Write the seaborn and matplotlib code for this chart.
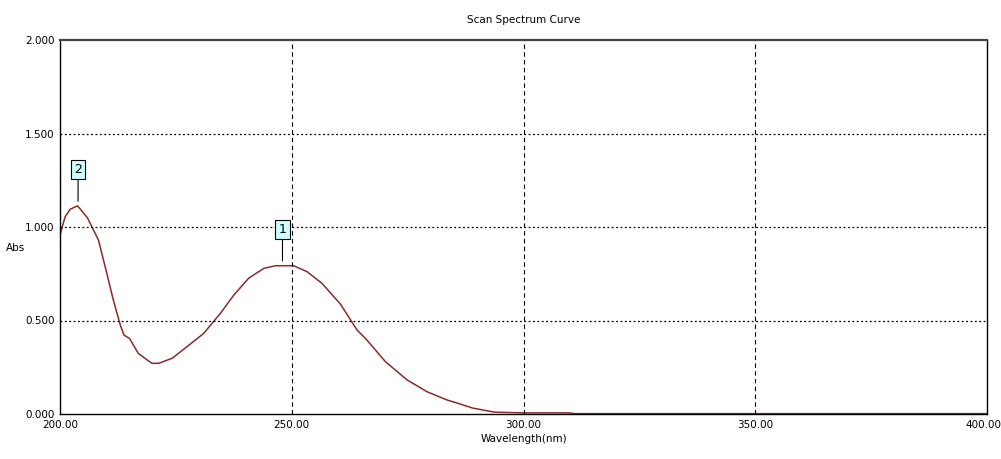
import matplotlib
matplotlib.use('Agg')
import matplotlib.pyplot as plt
import matplotlib.transforms as mtransforms
import numpy as np
import pandas as pd
import seaborn as sns

# Spectrum values
wavelength = [200.0, 201.1, 202.2, 203.8, 205.9, 208.3, 210.1, 211.5, 213.0, 213.8,
              215.0, 216.9, 219.8, 221.3, 224.2, 227.4, 231.0, 234.6, 237.5, 240.7,
              244.0, 246.5, 250.4, 253.3, 256.5, 260.5, 264.1, 266.2, 270.2, 274.9,
              279.2, 283.5, 286.4, 289.0, 293.7, 300.0, 305.0, 310.0, 311.0, 330.0,
              360.0, 400.0]
absorbance = [0.957, 1.055, 1.095, 1.113, 1.050, 0.930, 0.752, 0.610, 0.476, 0.422,
              0.404, 0.324, 0.271, 0.271, 0.298, 0.360, 0.431, 0.538, 0.636, 0.726,
              0.779, 0.793, 0.793, 0.761, 0.699, 0.588, 0.449, 0.396, 0.280, 0.182,
              0.119, 0.075, 0.053, 0.032, 0.010, 0.006, 0.006, 0.006, 0.002, 0.002,
              0.002, 0.002]

peak_labels = ['1', '2']
peak_x = [248.0, 203.9]
peak_y = [0.793, 1.113]

x_ticks = [200, 250, 300, 350, 400]
y_ticks = [0.0, 0.5, 1.0, 1.5, 2.0]

df = pd.DataFrame({'Wavelength': wavelength, 'Abs': absorbance})

sns.set_style('white')
plt.rcParams['font.family'] = ['DejaVu Sans']
plt.rcParams['text.color'] = 'black'
plt.rcParams['xtick.color'] = 'black'
plt.rcParams['ytick.color'] = 'black'
plt.rcParams['axes.labelcolor'] = 'black'

fig = plt.figure(figsize=(10.01, 4.59), dpi=100)
ax = fig.add_axes([60 / 1001, 45 / 459, 927 / 1001, 374 / 459])

sns.lineplot(data=df, x='Wavelength', y='Abs', ax=ax, color='#8b2a2a', linewidth=1.1)

ax.set_xlim(200, 400)
ax.set_ylim(0, 2.0)
ax.set_xticks(x_ticks)
ax.set_xticklabels([f'{v:.2f}' for v in x_ticks], fontsize=7.5)
ax.set_yticks(y_ticks)
ax.set_yticklabels([f'{v:.3f}' for v in y_ticks], fontsize=7.5)
ax.tick_params(length=0, pad=4)

# keep the last x label inside the figure
last = ax.get_xticklabels()[-1]
last.set_horizontalalignment('right')
last.set_transform(last.get_transform() + mtransforms.ScaledTranslation(14 / 100, 0, fig.dpi_scale_trans))

# grid: dashed verticals, dotted horizontals
for v in x_ticks[1:-1]:
    ax.axvline(v, color='black', linestyle=(0, (4, 3)), linewidth=0.8)
for v in y_ticks[1:-1]:
    ax.axhline(v, color='black', linestyle=(0, (1.5, 2)), linewidth=0.9)

for s in ['left', 'bottom', 'right']:
    ax.spines[s].set_color('black')
    ax.spines[s].set_linewidth(1.0)
ax.spines['top'].set_color('#444444')
ax.spines['top'].set_linewidth(1.6)

ax.set_xlabel('Wavelength(nm)', fontsize=7.5, labelpad=3)
ax.set_ylabel('')
fig.text(16 / 1001, 1 - 248 / 459, 'Abs', fontsize=7.5, ha='center', va='center')
ax.set_title('Scan Spectrum Curve', fontsize=7.5, pad=12)

# peak markers
for lab, px, py in zip(peak_labels, peak_x, peak_y):
    ax.annotate(lab, xy=(px, py + 0.025), xytext=(px, py + 0.195),
                ha='center', va='center', fontsize=9,
                bbox=dict(boxstyle='square,pad=0.25', fc='#ccffff', ec='black', lw=0.8),
                arrowprops=dict(arrowstyle='-', color='black', lw=0.8,
                                shrinkA=0, shrinkB=0))

fig.savefig('out.png', dpi=100)
